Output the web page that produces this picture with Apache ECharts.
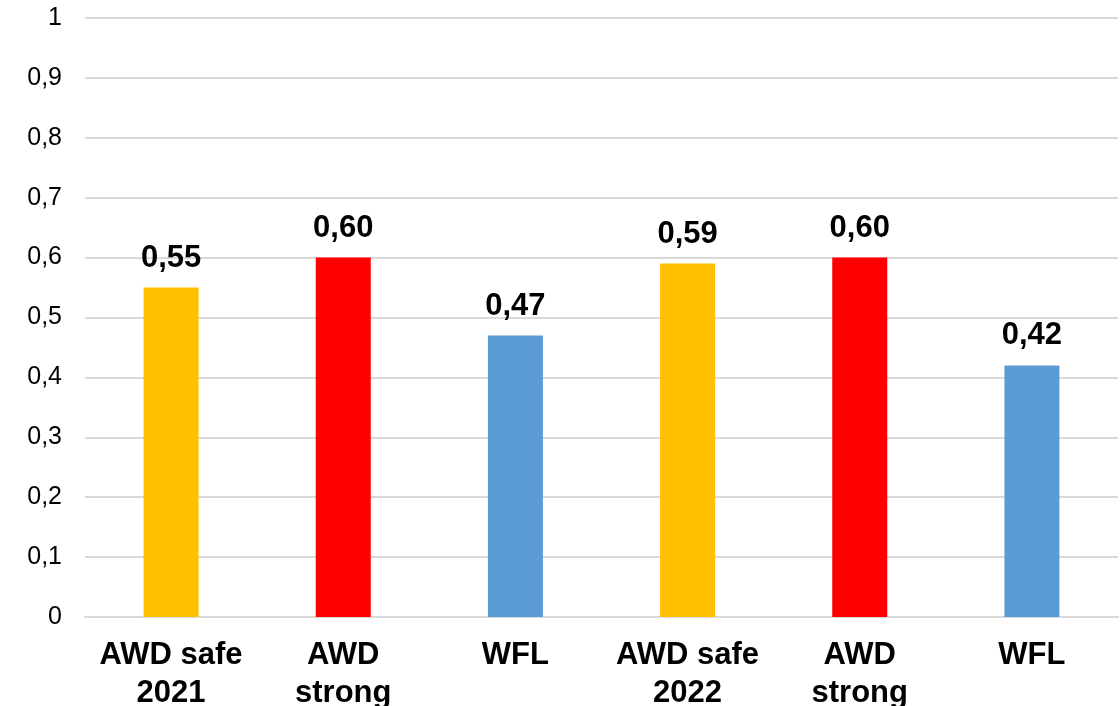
<!DOCTYPE html>
<html>
<head>
<meta charset="utf-8">
<script src="https://cdn.jsdelivr.net/npm/echarts@6/dist/echarts.min.js"></script>
<style>
  html, body { margin: 0; padding: 0; background: #fff; }
  #chart { width: 1120px; height: 706px; }
</style>
</head>
<body>
<div id="chart"></div>
<script>
// Categories (two-line labels) and values per bar
const categories = ['AWD safe\n2021', 'AWD\nstrong', 'WFL', 'AWD safe\n2022', 'AWD\nstrong', 'WFL'];
const values = [0.55, 0.60, 0.47, 0.59, 0.60, 0.42];
const barColors = ['#FFC000', '#FF0000', '#5B9BD5', '#FFC000', '#FF0000', '#5B9BD5'];

const fmt = v => v.toFixed(2).replace('.', ',');
const font = '"Liberation Sans", Arial, sans-serif';

const chart = echarts.init(document.getElementById('chart'));
chart.setOption({
  animation: false,
  grid: { left: 85, right: 2, top: 18, bottom: 89, containLabel: false, outerBoundsMode: 'none' },
  xAxis: {
    type: 'category',
    data: categories,
    axisTick: { show: false },
    axisLine: { lineStyle: { color: '#d9d9d9', width: 2 } },
    axisLabel: {
      color: '#000', fontFamily: font, fontSize: 31, fontWeight: 'bold',
      lineHeight: 38, margin: 19, interval: 0
    }
  },
  yAxis: {
    type: 'value',
    min: 0, max: 1, interval: 0.1,
    axisLine: { show: false },
    axisTick: { show: false },
    splitLine: { lineStyle: { color: '#d9d9d9', width: 2 } },
    axisLabel: {
      color: '#000', fontFamily: font, fontSize: 25, margin: 23,
      formatter: v => (Math.round(v * 10) / 10).toString().replace('.', ',')
    }
  },
  series: [{
    type: 'bar',
    barWidth: 55,
    data: values.map((v, i) => ({ value: v, itemStyle: { color: barColors[i] } })),
    label: {
      show: true, position: 'top', distance: 14,
      color: '#000', fontFamily: font, fontSize: 31, fontWeight: 'bold',
      formatter: p => fmt(p.value)
    }
  }]
});
</script>
</body>
</html>
